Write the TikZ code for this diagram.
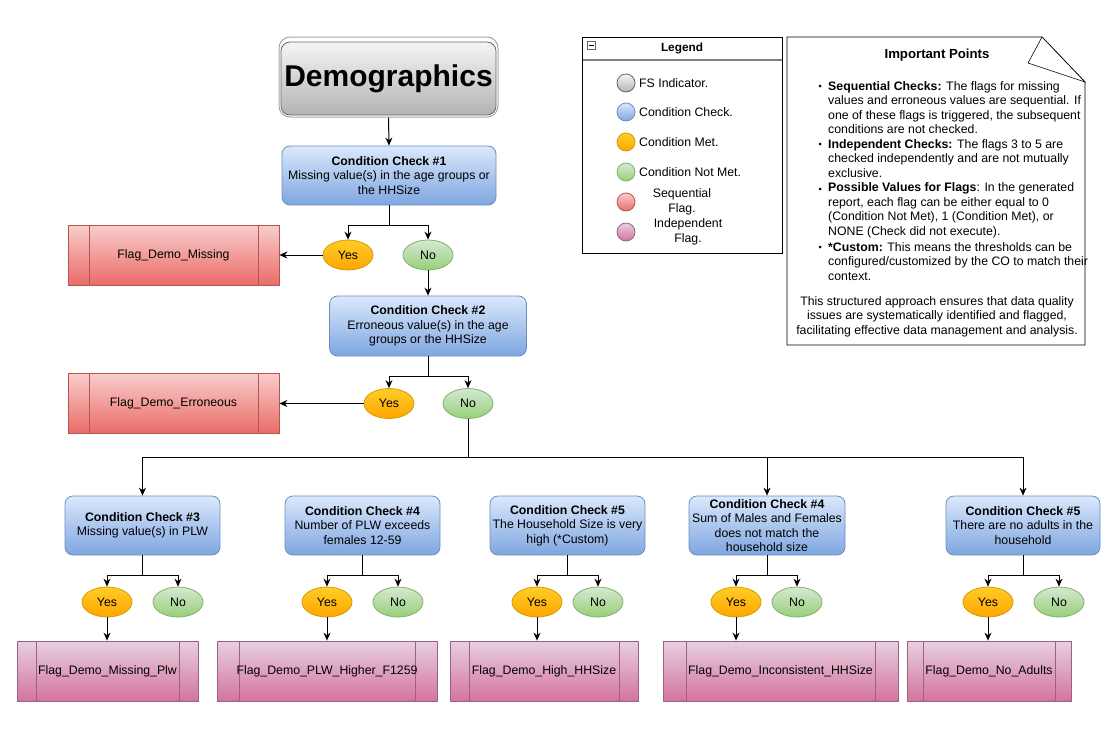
\documentclass[tikz,border=0pt]{standalone}
\usepackage{fontspec}
\setmainfont{Liberation Sans}
\usetikzlibrary{arrows.meta,shapes.geometric,calc}
\definecolor{ccT}{HTML}{DAE8FC}\definecolor{ccB}{HTML}{7EA6E0}\definecolor{ccL}{HTML}{6C8EBF}
\definecolor{yT}{HTML}{FFCD28}\definecolor{yB}{HTML}{FFA500}\definecolor{yL}{HTML}{D79B00}
\definecolor{nT}{HTML}{D5E8D4}\definecolor{nB}{HTML}{97D077}\definecolor{nL}{HTML}{82B366}
\definecolor{rT}{HTML}{F8CECC}\definecolor{rB}{HTML}{EA6B66}\definecolor{rL}{HTML}{B85450}
\definecolor{pT}{HTML}{E6D0DE}\definecolor{pB}{HTML}{D5739D}\definecolor{pL}{HTML}{996185}
\definecolor{gT}{HTML}{F5F5F5}\definecolor{gB}{HTML}{B3B3B3}\definecolor{gL}{HTML}{666666}
\begin{document}
\begin{tikzpicture}[x=1pt,y=-1pt,
  txt/.style={font=\fontsize{12.3}{14.5}\selectfont, inner sep=0pt, align=center},
  cc/.style={txt, rectangle, rounded corners=8pt, draw=ccL, line width=0.8pt, top color=ccT, bottom color=ccB, minimum height=59pt},
  yesn/.style={txt, ellipse, draw=yL, line width=0.8pt, top color=yT, bottom color=yB, minimum width=50pt, minimum height=30pt},
  non/.style={txt, ellipse, draw=nL, line width=0.8pt, top color=nT, bottom color=nB, minimum width=50pt, minimum height=30pt},
  sflag/.style={txt, rectangle, draw=rL, line width=0.8pt, top color=rT, bottom color=rB, minimum height=60pt,
    path picture={\draw[rL, line width=0.8pt] ([xshift=#1]path picture bounding box.north west) -- ([xshift=#1]path picture bounding box.south west)
      ([xshift=-#1]path picture bounding box.north east) -- ([xshift=-#1]path picture bounding box.south east);}},
  iflag/.style={txt, rectangle, draw=pL, line width=0.8pt, top color=pT, bottom color=pB, minimum height=60pt,
    path picture={\draw[pL, line width=0.8pt] ([xshift=#1]path picture bounding box.north west) -- ([xshift=#1]path picture bounding box.south west)
      ([xshift=-#1]path picture bounding box.north east) -- ([xshift=-#1]path picture bounding box.south east);}},
  arr/.style={draw=black, line width=1pt, -{Stealth[length=8pt,width=7pt]}},
  lcirc/.style={circle, minimum size=18pt, inner sep=0pt, line width=0.8pt},
  ltxt/.style={txt, anchor=west},
  btxt/.style={font=\fontsize{12.3}{14.5}\selectfont, inner sep=0pt, align=left, anchor=west},
  bul/.style={circle, fill=black, inner sep=0pt, minimum size=3pt}
]
\useasboundingbox (0,0) rectangle (1118,737);

% Title
\node[rectangle, rounded corners=11pt, draw=gray!70, line width=1pt, fill=white, minimum width=219pt, minimum height=80pt] (demo) at (388.5,77) {};
\node[rectangle, rounded corners=9pt, draw=gL, line width=0.8pt, top color=gT, bottom color=gB, minimum width=212pt, minimum height=73pt,
  font=\fontsize{30}{34}\selectfont\bfseries] (demotxt) at (388.5,78.5) {Demographics};

% Condition check 1
\node[cc, minimum width=214pt] (cc1) at (389,175.5) {\textbf{Condition Check \#1}\\Missing value(s) in the age groups or\\the HHSize};
\node[yesn] (y1) at (348,255) {Yes};
\node[non] (n1) at (428,255) {No};
\node[sflag=21pt, minimum width=211pt] (f1) at (173.5,255) {Flag\_Demo\_Missing};

% Condition check 2
\node[cc, minimum width=197pt, minimum height=60pt] (cc2) at (428,326) {\textbf{Condition Check \#2}\\Erroneous value(s) in the age\\groups or the HHSize};
\node[yesn] (y2) at (389,403.5) {Yes};
\node[non] (n2) at (468,403.5) {No};
\node[sflag=21pt, minimum width=211pt] (f2) at (173.5,403.5) {Flag\_Demo\_Erroneous};

% Bottom checks
\node[cc, minimum width=155pt] (cc3) at (142.5,525.5) {\textbf{Condition Check \#3}\\Missing value(s) in PLW};
\node[cc, minimum width=155pt] (cc4) at (362.5,525.5) {\textbf{Condition Check \#4}\\Number of PLW exceeds\\females 12-59};
\node[cc, minimum width=155pt] (cc5) at (567.5,525.5) {\textbf{Condition Check \#5}\\The Household Size is very\\high (*Custom)};
\node[cc, minimum width=156pt] (cc6) at (767,525.5) {\textbf{Condition Check \#4}\\Sum of Males and Females\\does not match the\\household size};
\node[cc, minimum width=154pt] (cc7) at (1023,525.5) {\textbf{Condition Check \#5}\\There are no adults in the\\household};

\node[yesn] (y3) at (107,602) {Yes};  \node[non] (n3) at (178,602) {No};
\node[yesn] (y4) at (327,602) {Yes};  \node[non] (n4) at (398,602) {No};
\node[yesn] (y5) at (537,602) {Yes};  \node[non] (n5) at (598,602) {No};
\node[yesn] (y6) at (736,602) {Yes};  \node[non] (n6) at (797,602) {No};
\node[yesn] (y7) at (988,602) {Yes};  \node[non] (n7) at (1059,602) {No};

\node[iflag=19pt, minimum width=181pt] (fl3) at (107.5,671) {Flag\_Demo\_Missing\_Plw};
\node[iflag=22pt, minimum width=220pt] (fl4) at (327,671) {Flag\_Demo\_PLW\_Higher\_F1259};
\node[iflag=19pt, minimum width=188pt] (fl5) at (544,671) {Flag\_Demo\_High\_HHSize};
\node[iflag=23pt, minimum width=235pt] (fl6) at (780.5,671) {Flag\_Demo\_Inconsistent\_HHSize};
\node[iflag=16pt, minimum width=164pt] (fl7) at (989,671) {Flag\_Demo\_No\_Adults};

% Connectors
\draw[arr] (demo.south) -- (cc1.north);
\draw[arr] (cc1.south) -- ++(0,20) -| (y1.north);
\draw[arr] (cc1.south) -- ++(0,20) -| (n1.north);
\draw[arr] (y1.west) -- (f1.east);
\draw[arr] (n1.south) -- (cc2.north);
\draw[arr] (cc2.south) -- ++(0,20) -| (y2.north);
\draw[arr] (cc2.south) -- ++(0,20) -| (n2.north);
\draw[arr] (y2.west) -- (f2.east);
\coordinate (j) at (468,457);
\draw[line width=1pt] (n2.south) -- (j);
\draw[arr] (j) -| (cc3.north);
\draw[arr] (j) -| (cc6.north);
\draw[arr] (j) -| (cc7.north);
\foreach \i in {3,4,5,6,7}{
  \draw[arr] (cc\i.south) -- ++(0,20) -| (y\i.north);
  \draw[arr] (cc\i.south) -- ++(0,20) -| (n\i.north);
  \draw[arr] (y\i.south) -- (y\i.south |- fl\i.north);
}

% Legend
\node[draw=black, line width=0.8pt, fill=white, minimum width=200pt, minimum height=216pt, inner sep=0pt] (leg) at (682,145) {};
\draw[gray, line width=1.5pt] (582.5,60) -- (781.5,60);
\node[draw=gray!80!black, line width=0.6pt, fill=white, minimum size=8pt, inner sep=0pt] (minus) at (591,45) {};
\draw[black, line width=0.8pt] ([xshift=-2.5pt]minus.center) -- ([xshift=2.5pt]minus.center);
\node[txt, font=\fontsize{11.8}{14}\selectfont\bfseries] (legt) at (682,48.5) {Legend};
\node[lcirc, draw=gL, top color=gT, bottom color=gB] (c1) at (626,83) {};
\node[lcirc, draw=ccL, top color=ccT, bottom color=ccB] (c2) at (626,112) {};
\node[lcirc, draw=yL, top color=yT, bottom color=yB] (c3) at (626,142) {};
\node[lcirc, draw=nL, top color=nT, bottom color=nB] (c4) at (626,172) {};
\node[lcirc, draw=rL, top color=rT, bottom color=rB] (c5) at (626,202) {};
\node[lcirc, draw=pL, top color=pT, bottom color=pB] (c6) at (626,232) {};
\node[ltxt] (lt1) at (639,83) {FS Indicator.};
\node[ltxt] (lt2) at (639,112) {Condition Check.};
\node[ltxt] (lt3) at (639,142) {Condition Met.};
\node[ltxt] (lt4) at (639,172) {Condition Not Met.};
\node[txt] (lt5) at (682,202) {Sequential\\Flag.};
\node[txt] (lt6) at (688,232) {Independent\\Flag.};

% Important points note
\draw[black, line width=0.8pt, fill=white] (787,37) -- (1042,37) -- (1085,82) -- (1085,345) -- (787,345) -- cycle;
\draw[black, line width=0.6pt, fill=white] (1042,37) -- (1028,63) -- (1085,82) -- cycle;
\node[txt, font=\fontsize{13.2}{15}\selectfont\bfseries] (ipt) at (937,55.5) {Important Points};
\node[bul] (b1) at (820,86) {};
\node[bul] (b2) at (820,144) {};
\node[bul] (b3) at (820,189) {};
\node[bul] (b4) at (820,247) {};
\node[btxt] (p1) at (828,107.5) {\textbf{Sequential Checks:} The flags for missing\\values and erroneous values are sequential. If\\one of these flags is triggered, the subsequent\\conditions are not checked.};
\node[btxt] (p2) at (828,158.5) {\textbf{Independent Checks:} The flags 3 to 5 are\\checked independently and are not mutually\\exclusive.};
\node[btxt] (p3) at (828,210.5) {\textbf{Possible Values for Flags}: In the generated\\report, each flag can be either equal to 0\\(Condition Not Met), 1 (Condition Met), or\\NONE (Check did not execute).};
\node[btxt] (p4) at (828,261.5) {\textbf{*Custom:} This means the thresholds can be\\configured/customized by the CO to match their\\context.};
\node[txt] (p5) at (937,316.5) {This structured approach ensures that data quality\\issues are systematically identified and flagged,\\facilitating effective data management and analysis.};
\end{tikzpicture}
\end{document}
